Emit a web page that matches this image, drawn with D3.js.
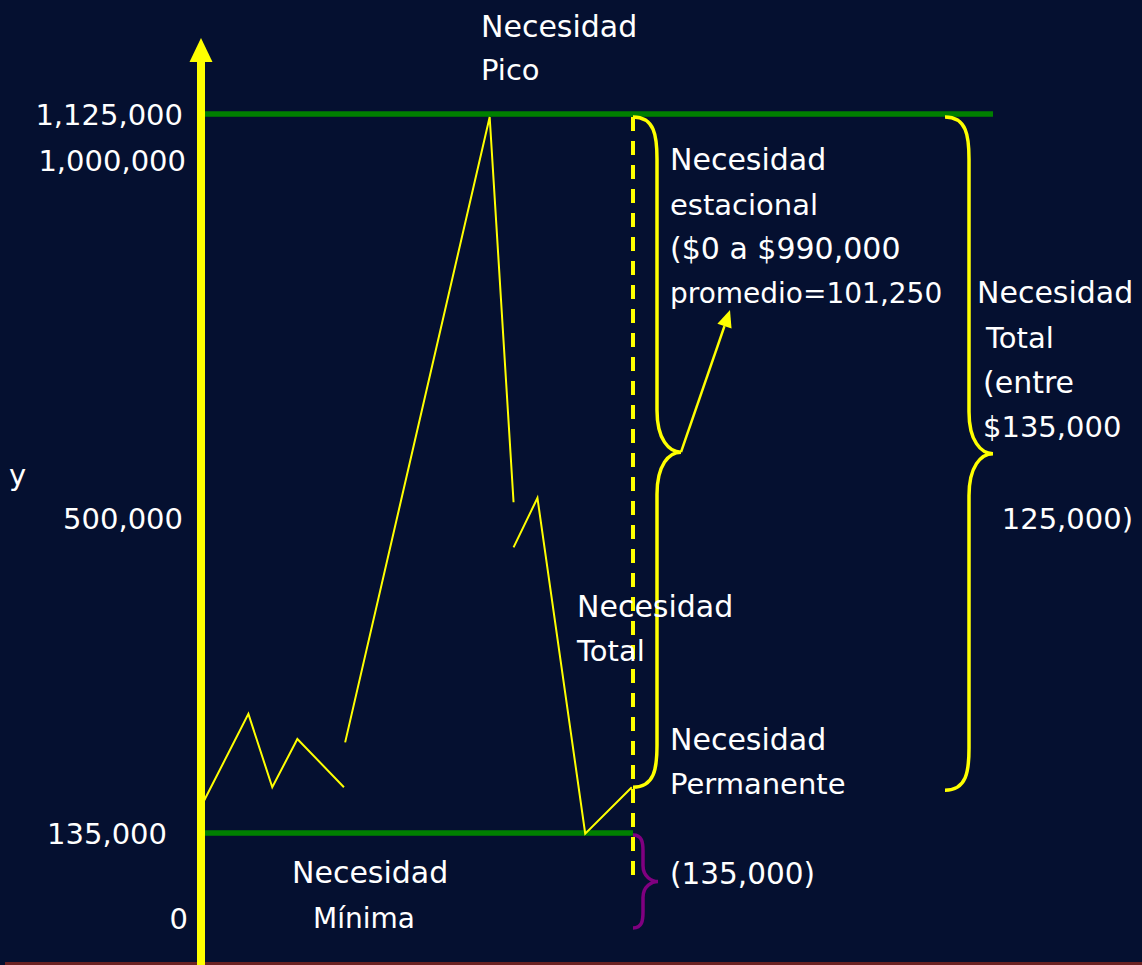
<!DOCTYPE html>
<html>
<head>
<meta charset="utf-8">
<script src="https://cdn.jsdelivr.net/npm/d3@7"></script>
<style>
  html, body { margin: 0; padding: 0; background: #051030; }
  svg { display: block; }
  text { font-family: "DejaVu Sans", sans-serif; fill: #ffffff; }
</style>
</head>
<body>
<svg id="chart" width="1142" height="965"></svg>
<script>
// ---------------- DATA ----------------
// y-axis tick values and their labels (axis is drawn non-proportionally, as in the slide)
const tickValues = [0, 135000, 500000, 1000000, 1125000];
const tickLabels = ["0", "135,000", "500,000", "1,000,000", "1,125,000"];
// horizontal reference levels: minimum need and peak need
const levelValues = [135000, 1125000];
// financing need over the year (days), drawn as three hand-drawn segments
const days1 = [0, 38, 58, 79, 118];
const need1 = [170000, 273000, 188000, 244000, 188000];
const days2 = [119, 240, 260];
const need2 = [240000, 1117000, 522000];
const days3 = [260, 280, 320, 359];
const need3 = [466000, 528000, 134000, 188000];
const periodEnd = 360;
const permanentLevel = 188000;

// ---------------- LAYOUT ----------------
const W = 1142, H = 965;
const axisX = 201;
const svg = d3.select("#chart");
svg.append("rect").attr("width", W).attr("height", H).attr("fill", "#051030");

const x = d3.scaleLinear().domain([0, periodEnd]).range([203, 633]);
const y = d3.scaleLinear().domain(tickValues).range([918, 833, 518, 160, 114]);

const YELLOW = "#ffff00", GREEN = "#008000", PURPLE = "#800080";

// bottom strip
svg.append("rect").attr("x", 5).attr("y", 962).attr("width", W - 5).attr("height", 3).attr("fill", "#6b2222");

// green level lines
const ends = [x(periodEnd), x(periodEnd) + 360];
svg.selectAll("line.level").data(levelValues).join("line")
  .attr("class", "level")
  .attr("x1", axisX).attr("x2", (d, i) => ends[i])
  .attr("y1", d => y(d)).attr("y2", d => y(d))
  .attr("stroke", GREEN).attr("stroke-width", 5.5);

// dashed end-of-period line
svg.append("line")
  .attr("x1", x(periodEnd)).attr("x2", x(periodEnd))
  .attr("y1", y(1125000) + 3).attr("y2", y(0) - 33)
  .attr("stroke", YELLOW).attr("stroke-width", 4)
  .attr("stroke-dasharray", "14,10");

// need line segments
const line = d3.line().x(d => x(d[0])).y(d => y(d[1]));
const segs = [d3.zip(days1, need1), d3.zip(days2, need2), d3.zip(days3, need3)];
svg.selectAll("path.need").data(segs).join("path")
  .attr("class", "need")
  .attr("d", line)
  .attr("fill", "none").attr("stroke", YELLOW).attr("stroke-width", 2)
  .attr("stroke-linejoin", "miter");

// y axis with arrow
svg.append("line").attr("x1", axisX).attr("x2", axisX).attr("y1", 60).attr("y2", H)
  .attr("stroke", YELLOW).attr("stroke-width", 8);
svg.append("path").attr("d", `M${axisX},38 L${axisX + 11.5},62 L${axisX - 11.5},62 Z`).attr("fill", YELLOW);

// tick labels
const labelX = { "135,000": 167, "0": 188, "1,000,000": 186 };
svg.selectAll("text.tick").data(tickValues).join("text")
  .attr("class", "tick")
  .attr("x", (d, i) => labelX[tickLabels[i]] || 183)
  .attr("y", d => y(d) + 11)
  .attr("text-anchor", "end")
  .attr("font-size", 29)
  .text((d, i) => tickLabels[i]);

svg.append("text").attr("x", 9).attr("y", 485).attr("font-size", 29).text("y");

// braces
function brace(x0, yTop, yBot, d, r, spineF) {
  const s = x0 + d * spineF, ym = (yTop + yBot) / 2;
  return `M${x0},${yTop} C${x0 + (s - x0) * 0.9},${yTop} ${s},${yTop + r * 0.45} ${s},${yTop + r}` +
    ` L${s},${ym - r} C${s},${ym - r * 0.3} ${x0 + d * 0.75},${ym} ${x0 + d},${ym}` +
    ` C${x0 + d * 0.75},${ym} ${s},${ym + r * 0.3} ${s},${ym + r}` +
    ` L${s},${yBot - r} C${s},${yBot - r * 0.45} ${x0 + (s - x0) * 0.9},${yBot} ${x0},${yBot}`;
}
const bx = x(periodEnd);
svg.append("path").attr("d", brace(bx, y(1125000) + 3, y(permanentLevel), 48, 42, 0.5))
  .attr("fill", "none").attr("stroke", YELLOW).attr("stroke-width", 3.5);
svg.append("path").attr("d", brace(bx + 312, y(1125000) + 3, y(permanentLevel) + 3, 48, 42, 0.5))
  .attr("fill", "none").attr("stroke", YELLOW).attr("stroke-width", 3.5);
svg.append("path").attr("d", brace(bx, y(135000) + 2, y(0) + 10, 25, 16, 0.4))
  .attr("fill", "none").attr("stroke", PURPLE).attr("stroke-width", 3.5);

// arrow from seasonal brace tip to its label
const a0 = [bx + 48, (y(1125000) + 3 + y(permanentLevel)) / 2], a1 = [730, 310];
const dx = a1[0] - a0[0], dy = a1[1] - a0[1], L = Math.hypot(dx, dy);
const ux = dx / L, uy = dy / L, hl = 17, hw = 7.5;
const bxh = a1[0] - ux * hl, byh = a1[1] - uy * hl;
svg.append("line").attr("x1", a0[0]).attr("y1", a0[1]).attr("x2", bxh).attr("y2", byh)
  .attr("stroke", YELLOW).attr("stroke-width", 2.5);
svg.append("path")
  .attr("d", `M${a1[0]},${a1[1]} L${bxh - uy * hw},${byh + ux * hw} L${bxh + uy * hw},${byh - ux * hw} Z`)
  .attr("fill", YELLOW);

// annotation texts: [text, x, baseline y, font size]
const notes = [
  ["Necesidad", 481, 37, 30], ["Pico", 481, 80, 29],
  ["Necesidad", 670, 170, 30], ["estacional", 670, 215, 29], ["($0 a $990,000", 670, 259, 30], ["promedio=101,250", 670, 303, 28],
  ["Necesidad", 977, 303, 30], ["Total", 986, 348, 29], ["(entre", 983, 393, 30], ["$135,000", 983, 437, 29],
  ["Necesidad", 577, 617, 30], ["Total", 577, 661, 29],
  ["Necesidad", 670, 750, 30], ["Permanente", 670, 794, 29],
  ["Necesidad", 292, 883, 30], ["Mínima", 313, 928, 28],
  ["(135,000)", 670, 884, 29.5]
];
svg.selectAll("text.note").data(notes).join("text")
  .attr("class", "note")
  .attr("x", d => d[1]).attr("y", d => d[2])
  .attr("font-size", d => d[3])
  .text(d => d[0]);
svg.append("text").attr("x", 1133).attr("y", 529).attr("text-anchor", "end")
  .attr("font-size", 29).text("125,000)");
</script>
</body>
</html>
